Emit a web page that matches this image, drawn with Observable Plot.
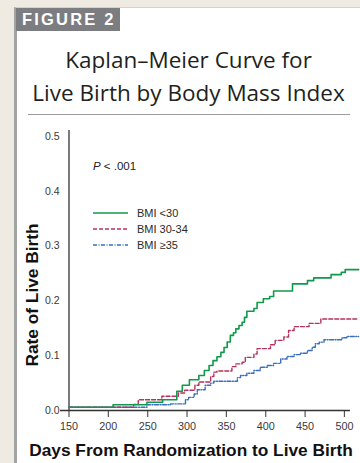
<!DOCTYPE html>
<html><head><meta charset="utf-8">
<script src="https://cdn.jsdelivr.net/npm/d3@7"></script>
<script src="https://cdn.jsdelivr.net/npm/@observablehq/plot@0.6"></script>
<style>
html,body{margin:0;padding:0;}
body{width:360px;height:463px;background:#efebe2;position:relative;overflow:hidden;font-family:"Liberation Sans",Arial,sans-serif;}
#panel{position:absolute;left:14px;top:7px;width:346px;height:456px;background:#fff;border-left:3px solid #a3a3a3;border-top:1px solid #d6d2ca;box-sizing:border-box;}
#fig{position:absolute;left:16px;top:8px;width:104px;height:23px;background:#7b7d80;color:#fff;font-weight:bold;font-size:16.5px;letter-spacing:2.2px;line-height:23px;padding-left:6px;box-sizing:border-box;}
#title{position:absolute;left:17px;width:343px;top:43px;text-align:center;font-family:"Open Sans",sans-serif;font-weight:500;font-size:22.5px;line-height:33px;color:#231f20;}
#rule{position:absolute;left:28px;top:114px;width:322px;height:0;border-top:1.5px solid #9a9a9a;}
#chart{position:absolute;left:0;top:120px;}
#pval{position:absolute;left:93px;top:159px;font-size:11.5px;line-height:15px;color:#222;}
#legend{position:absolute;left:93px;top:205px;font-size:11px;color:#2a2a2a;}
.row{display:flex;align-items:center;height:16px;}
.row svg{margin-right:8px;}
</style></head>
<body>
<div id="panel"></div>
<div id="fig">FIGURE 2</div>
<div id="title">Kaplan–Meier Curve for<br>Live Birth by Body Mass Index</div>
<div id="rule"></div>
<div id="chart"></div>
<div id="pval"><i>P</i> &lt; .001</div>
<div id="legend"></div>
<script>
const groups = ["BMI <30", "BMI 30-34", "BMI ≥35"];
const colors = ["#11994b", "#b5325c", "#3a6fbf"];
const dashes = [null, "4,2", "4,1.5,1,1.5"];

const daysLt30 = [150,206,249,269,287,294,303,315,322,328,333,338,343,347,351,355,359,362,366,370,373,376,385,389,397,405,410,434,453,461,483,496,501,518];
const rateLt30 = [0.006,0.0105,0.015,0.0195,0.035,0.046,0.056,0.064,0.073,0.082,0.091,0.098,0.106,0.115,0.125,0.137,0.142,0.149,0.155,0.161,0.170,0.181,0.186,0.197,0.204,0.208,0.218,0.231,0.237,0.242,0.248,0.252,0.257,0.257];

const days3034 = [150,232,238,268,289,297,310,315,330,334,338,357,362,370,374,385,389,406,412,423,429,436,455,470,518];
const rate3034 = [0.006,0.011,0.0195,0.026,0.032,0.037,0.046,0.052,0.062,0.07,0.072,0.08,0.085,0.088,0.097,0.103,0.113,0.12,0.128,0.134,0.146,0.153,0.159,0.167,0.167];

const daysGe35 = [150,249,279,298,302,309,313,323,330,334,364,368,376,385,393,402,410,419,427,436,444,453,459,463,468,474,497,503,518];
const rateGe35 = [0.006,0.0105,0.012,0.0195,0.024,0.03,0.038,0.046,0.05,0.0535,0.06,0.064,0.068,0.073,0.079,0.082,0.086,0.094,0.0985,0.102,0.1046,0.1095,0.1155,0.1217,0.1247,0.129,0.1327,0.135,0.135];

const xTicks = [150,200,250,300,350,400,450,500];
const yTicks = [0,0.1,0.2,0.3,0.4,0.5];
const xLabel = "Days From Randomization to Live Birth";
const yLabel = "Rate of Live Birth";

const seriesDays = [daysLt30, days3034, daysGe35];
const seriesRate = [rateLt30, rate3034, rateGe35];
const toRows = (k) => seriesDays[k].map((d, i) => ({group: groups[k], day: d, rate: seriesRate[k][i]}));

const lineMark = (k, w) => Plot.line(toRows(k), {
  x: "day", y: "rate", curve: "step-after",
  stroke: colors[k], strokeWidth: w,
  strokeDasharray: dashes[k] || undefined
});

const plot = Plot.plot({
  width: 360, height: 343,
  marginLeft: 60, marginRight: 10, marginTop: 16, marginBottom: 53,
  x: {domain: [139.2, 507.7]},
  y: {domain: [0, 0.5]},
  style: {fontFamily: "'Liberation Sans', Arial, sans-serif", background: "transparent", overflow: "visible"},
  marks: [
    Plot.axisY({ticks: yTicks, tickSize: 0, tickPadding: 1, tickFormat: d => d.toFixed(1), fontSize: 10.5, fill: "#3a3a3a", label: null}),
    Plot.axisX({ticks: xTicks, tickSize: 7, tickPadding: 5, fontSize: 10.8, stroke: "#555", strokeWidth: 1.2, fill: "#3a3a3a", label: null}),
    Plot.ruleY([0], {stroke: "#333", strokeWidth: 1.3}),
    Plot.ruleX([150], {y1: 0, y2: 0.511, stroke: "#333", strokeWidth: 1.3}),
    lineMark(2, 1.4),
    lineMark(1, 1.4),
    lineMark(0, 1.6),
    Plot.text([xLabel], {text: d => d, frameAnchor: "bottom", lineAnchor: "bottom", textAnchor: "middle", dx: -14.5, dy: 45, fontSize: 17.3, fontWeight: "bold", fill: "#111"}),
    Plot.text([yLabel], {text: d => d, frameAnchor: "left", textAnchor: "middle", rotate: -90, dx: -28.4, dy: 21.5, fontSize: 17.3, fontWeight: "bold", fill: "#111"})
  ]
});
document.getElementById("chart").appendChild(plot);

const legend = document.getElementById("legend");
groups.forEach((g, k) => {
  const row = document.createElement("div");
  row.className = "row";
  row.innerHTML = `<svg width="36" height="16"><line x1="0" x2="35" y1="8" y2="8" stroke="${colors[k]}" stroke-width="1.4" ${dashes[k] ? `stroke-dasharray="${dashes[k]}"` : ""}/></svg><span>${g.replace("<", "&lt;")}</span>`;
  legend.appendChild(row);
});
</script>
</body></html>
